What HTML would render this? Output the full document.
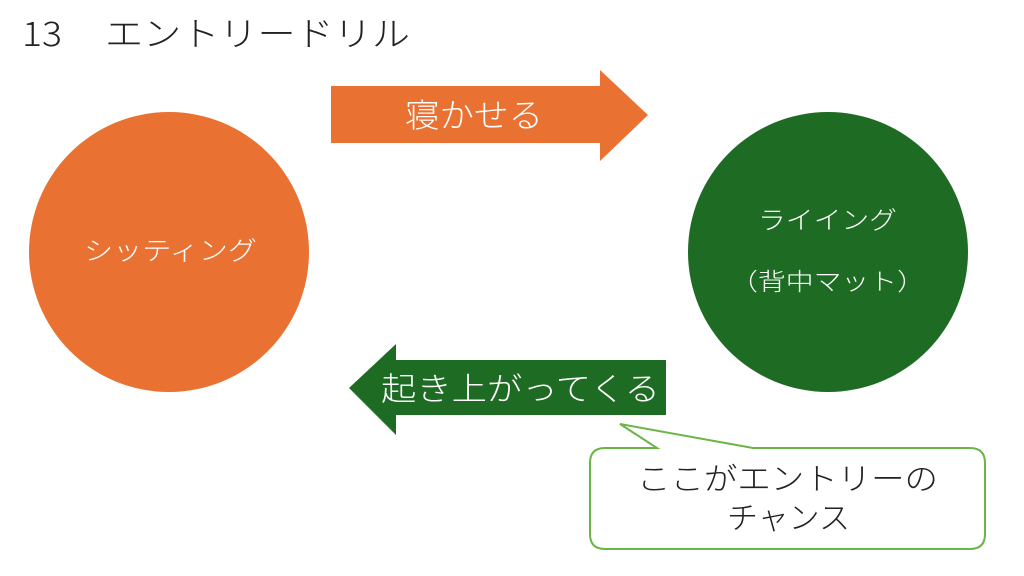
<!DOCTYPE html>
<html><head><meta charset="utf-8"><style>
html,body{margin:0;padding:0;background:#fff;width:1024px;height:576px;overflow:hidden}
svg text{font-family:"Liberation Sans","Noto Sans CJK JP",sans-serif;font-weight:300}
</style></head><body>
<svg width="1024" height="576" viewBox="0 0 1024 576" xmlns="http://www.w3.org/2000/svg">
<text x="22" y="46" font-size="34" fill="#222" textLength="40" lengthAdjust="spacingAndGlyphs" style="font-family:'Noto Sans CJK JP',sans-serif">13</text>
<text x="105" y="46" font-size="34" fill="#222" textLength="305" lengthAdjust="spacingAndGlyphs">エントリードリル</text>
<circle cx="169" cy="252" r="140" fill="#E97132"/>
<text x="84" y="260" font-size="26" fill="#fff" textLength="173" lengthAdjust="spacingAndGlyphs">シッティング</text>
<circle cx="828" cy="252" r="140" fill="#1E6B24"/>
<text x="758" y="229" font-size="25" fill="#fff" textLength="139" lengthAdjust="spacingAndGlyphs">ライイング</text>
<text x="730" y="290" font-size="24" fill="#fff" textLength="195" lengthAdjust="spacingAndGlyphs">（背中マット）</text>
<polygon points="331,86 600,86 600,70 648,115 600,161 600,143 331,143" fill="#E97132"/>
<text x="405" y="127" font-size="33" fill="#fff" textLength="138" lengthAdjust="spacingAndGlyphs">寝かせる</text>
<polygon points="666,360 396,360 396,344 349,388 396,435 396,415 666,415" fill="#1E6B24"/>
<text x="381" y="400" font-size="32" fill="#fff" textLength="279" lengthAdjust="spacingAndGlyphs">起き上がってくる</text>
<path d="M605,448 L657,448 L620,424 L753,448 L970,448 Q985,448 985,463 L985,534 Q985,549 970,549 L605,549 Q590,549 590,534 L590,463 Q590,448 605,448 Z" fill="#fff" stroke="#6AB545" stroke-width="2"/>
<text x="637" y="490" font-size="31" fill="#222" textLength="301" lengthAdjust="spacingAndGlyphs">ここがエントリーの</text>
<text x="727" y="529" font-size="31" fill="#222" textLength="123" lengthAdjust="spacingAndGlyphs">チャンス</text>
</svg>
</body></html>
